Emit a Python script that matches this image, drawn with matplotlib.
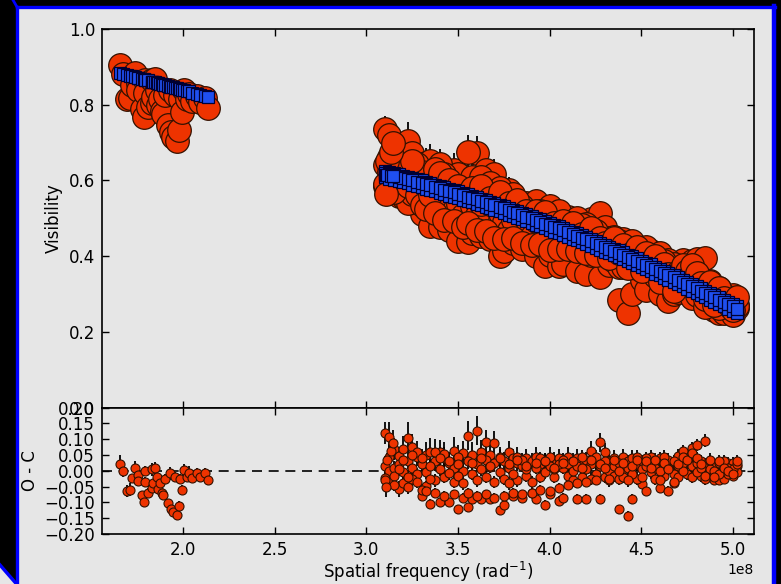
import numpy as np
import matplotlib
matplotlib.use("Agg")
import matplotlib.pyplot as plt
from matplotlib.patches import Polygon, Rectangle
from matplotlib.lines import Line2D

# ---------------- data (spatial frequency in units of 1e8 rad^-1) ----------------
freq_lo = [1.656, 1.673, 1.694, 1.711, 1.722, 1.738, 1.755, 1.755, 1.776, 1.787,
           1.793, 1.793, 1.809, 1.831, 1.831, 1.836, 1.847, 1.858, 1.864, 1.875,
           1.885, 1.891, 1.902, 1.918, 1.929, 1.935, 1.945, 1.956, 1.967, 1.978,
           1.984, 1.995, 2.005, 2.022, 2.033, 2.049, 2.076, 2.093, 2.120, 2.136]
model_lo = [.884, .882, .879, .877, .875, .873, .871, .871, .868, .867,
            .866, .866, .864, .861, .861, .860, .859, .858, .857, .855,
            .854, .853, .852, .850, .848, .847, .846, .845, .843, .842,
            .841, .840, .838, .836, .835, .832, .829, .827, .823, .821]
oc_lo = [.021, .000, -.064, -.060, -.024, .010, -.014, -.032, -.078, -.100,
         .000, -.035, -.070, -.056, .005, -.040, .008, -.020, -.058, -.040,
         -.070, -.078, -.026, -.103, -.008, -.120, -.130, -.020, -.140, -.110,
         -.026, -.060, .002, -.020, -.006, -.022, -.006, -.020, -.006, -.030]
err_lo = [.030, .020, .020, .020, .015, .020, .015, .015, .015, .015,
          .015, .015, .015, .015, .020, .015, .020, .015, .015, .015,
          .015, .015, .015, .015, .020, .015, .015, .015, .015, .015,
          .015, .015, .020, .015, .020, .015, .015, .015, .015, .015]

freq_hi = [3.100, 3.124, 3.151, 3.176, 3.198, 3.226, 3.251, 3.274, 3.301, 3.327,
           3.349, 3.376, 3.402, 3.424, 3.451, 3.477, 3.499, 3.526, 3.552, 3.574,
           3.601, 3.623, 3.652, 3.676, 3.698, 3.727, 3.749, 3.776, 3.802, 3.824,
           3.851, 3.873, 3.902, 3.926, 3.948, 3.977, 4.001, 4.024, 4.052, 4.074,
           4.101, 4.126, 4.148, 4.177, 4.199, 4.227, 4.251, 4.273, 4.302, 4.324,
           4.351, 4.376, 4.398, 4.427, 4.449, 4.476, 4.502, 4.524, 4.551, 4.573,
           4.602, 4.626, 4.648, 4.677, 4.699, 4.726, 4.751, 4.774, 4.802, 4.826,
           4.848, 4.877, 4.899, 4.926, 4.951, 4.974, 5.001, 5.022]
model_hi = [.616, .613, .610, .606, .603, .600, .596, .593, .590, .586,
            .583, .579, .576, .572, .568, .565, .561, .557, .553, .550,
            .546, .542, .538, .534, .530, .526, .522, .517, .513, .509,
            .505, .500, .496, .491, .487, .482, .478, .473, .469, .464,
            .459, .454, .450, .445, .440, .435, .430, .425, .420, .415,
            .410, .405, .400, .394, .389, .384, .378, .373, .368, .362,
            .357, .351, .345, .340, .334, .328, .322, .317, .311, .305,
            .299, .293, .287, .281, .275, .269, .263, .257]
# small model offsets between baseline groups (A, B, C, D)
model_shift = [0.000, 0.010, -0.008, 0.004]
oc_hi_a = [.120, .108, .068, .046, .070, .105, .076, .045, -.079, -.048,
           -.104, .030, -.100, .040, -.100, .062, -.122, .055, -.116, -.090,
           .127, -.090, .090, -.090, .087, -.125, -.109, .058, -.079, .025,
           -.085, .040, -.069, -.090, .020, -.109, -.074, .035, -.095, -.085,
           .045, .030, -.090, .025, -.088, .063, .030, .090, .058, .032,
           .040, -.122, .045, -.143, -.090, .020, -.042, -.063, .045, .030,
           -.056, .025, -.063, -.040, .048, .061, .030, .071, .081, .030,
           .095, -.020, -.030, -.030, -.026, .025, -.018, .014]
oc_hi_b = [.016, .000, .010, -.057, -.005, .030, .008, -.010, .020, .050,
           .058, -.030, .058, -.020, .025, .010, .045, .000, .111, .050,
           .020, .058, -.020, .050, -.035, .045, .030, .010, .040, -.030,
           .015, -.015, .030, .045, -.020, .030, .045, -.020, .040, .010,
           -.015, -.030, .040, -.020, .035, .020, -.010, -.090, -.020, .000,
           .015, .025, .005, .030, .040, -.025, .030, .040, -.005, -.025,
           .040, -.015, .035, .030, .015, .025, -.010, .015, .025, -.015,
           .020, .030, .020, .025, .015, -.010, .025, -.005]
oc_hi_c = [-.022, -.036, -.016, .022, -.040, -.052, -.025, .058, .040, -.005,
           .015, .060, .005, .052, -.008, -.035, -.015, -.040, .030, -.010,
           -.030, .005, .035, .012, .025, -.005, -.025, -.040, -.010, .045,
           .035, .005, -.035, .010, .040, -.005, .015, .005, .020, .035,
           .020, .000, .015, .045, .005, -.025, .045, .015, .030, -.030,
           -.015, -.025, -.020, .010, -.010, .045, .005, .015, .020, .010,
           .000, .045, .010, -.010, -.020, .000, .040, -.020, -.005, .010,
           -.025, .005, .000, -.010, .030, .010, .005, .020]
oc_hi_d = [-.030, .045, -.045, .005, .035, -.020, .050, -.035,
           -.060, -.065, -.025, -.070, .040, -.080, .030, -.075, .020, -.085,
           -.070, .025, -.080, .040, -.075, .015, -.085, .040, -.080, .020,
           -.070, .035, -.075, .015, -.070, .025, -.060, .030, -.065, .010,
           -.055, .025, -.045, .030, -.040, .010, -.035, .035, -.030, .020,
           .010, -.025, .035, .000, .025, -.030, .015, .035, -.020, .030,
           .010, .035, -.030, .025, .005, -.035, .020, .045, .035, .055,
           .040, .020, -.015, .035, -.020, .030, .010, .000, -.010, .030]
err_hi_a = [.035, .045, .035, .030, .040, .050, .040, .030, .015, .015,
            .015, .030, .015, .035, .015, .045, .015, .040, .015, .015,
            .045, .015, .040, .015, .040, .015, .015, .035, .015, .025,
            .015, .030, .015, .015, .020, .015, .015, .025, .015, .015,
            .030, .025, .015, .020, .015, .030, .025, .030, .030, .020,
            .025, .015, .025, .015, .015, .020, .015, .015, .020, .020,
            .015, .020, .015, .015, .020, .020, .020, .020, .020, .020,
            .020, .015, .015, .015, .015, .020, .015, .015]
err_hi_b = [.030, .030, .020, .025, .020, .025, .020, .020, .020, .040,
            .045, .020, .040, .020, .030, .020, .035, .020, .045, .040,
            .020, .040, .020, .035, .020, .030, .030, .020, .030, .020,
            .020, .020, .025, .030, .020, .025, .030, .020, .030, .020,
            .020, .020, .030, .020, .025, .020, .020, .015, .020, .020,
            .020, .020, .020, .020, .025, .020, .020, .020, .020, .020,
            .020, .020, .020, .020, .020, .020, .020, .020, .020, .020,
            .020, .020, .020, .020, .020, .020, .020, .015]
err_hi_c = [.030, .020, .020, .020, .020, .020, .020, .035, .030, .020,
            .020, .040, .020, .040, .020, .020, .020, .020, .025, .020,
            .020, .020, .030, .020, .025, .020, .020, .020, .020, .030,
            .020, .020, .020, .020, .020, .020, .020, .020, .020, .020,
            .020, .020, .020, .020, .020, .020, .020, .020, .020, .020,
            .020, .020, .020, .020, .020, .020, .020, .020, .020, .020,
            .020, .020, .020, .020, .020, .020, .020, .020, .020, .020,
            .020, .020, .020, .020, .020, .020, .020, .020]
err_hi_d = [.025, .040, .020, .020, .035, .020, .040, .020,
            .015, .015, .020, .015, .035, .015, .030, .015, .025, .015,
            .015, .025, .015, .035, .015, .020, .015, .030, .015, .020,
            .015, .025, .015, .020, .015, .020, .015, .025, .015, .020,
            .015, .020, .015, .020, .015, .020, .015, .020, .015, .020,
            .020, .020, .020, .020, .020, .020, .020, .020, .020, .020,
            .020, .020, .020, .020, .020, .020, .020, .020, .020, .020,
            .020, .020, .020, .020, .020, .020, .020, .020, .020, .020]
freq_x = [3.106, 3.112, 3.133, 3.143]
model_x = [.615, .615, .612, .611]
oc_x = [-.052, .035, .062, .088]
err_x = [.030, .020, .035, .040]

# ---------------- assemble ----------------
mh = np.asarray(model_hi)
freq = np.concatenate([freq_lo, freq_hi, freq_hi, freq_hi, freq_hi, freq_x]) * 1e8
model = np.concatenate([model_lo, mh + model_shift[0], mh + model_shift[1],
                        mh + model_shift[2], mh + model_shift[3], model_x])
oc = np.concatenate([oc_lo, oc_hi_a, oc_hi_b, oc_hi_c, oc_hi_d, oc_x])
err = np.concatenate([err_lo, err_hi_a, err_hi_b, err_hi_c, err_hi_d, err_x])
obs = model + oc

BG = "#e6e6e6"
RED = "#ee3300"
BLUE = "#1f4ff0"

fig = plt.figure(figsize=(7.81, 5.84), dpi=100, facecolor=BG)

# frame decoration (black border with blue outline)
deco = fig.add_axes([0, 0, 1, 1], zorder=-5)
deco.set_xlim(0, 781)
deco.set_ylim(584, 0)
deco.axis("off")
deco.add_patch(Rectangle((0, 0), 781, 5.5, color="black", lw=0))
deco.add_patch(Polygon([(0, 0), (16, 0), (16, 583), (0, 565)], closed=True,
                       color="black", lw=0))
deco.add_patch(Rectangle((776, 0), 5, 584, color="black", lw=0))
deco.add_line(Line2D([16.5, 774.5], [7, 7], color="#0000ff", lw=2.4))
deco.add_line(Line2D([16.5, 16.5], [7, 584], color="#0000ff", lw=2.4))
deco.add_line(Line2D([774, 774], [6, 584], color="#0000ff", lw=3.2))
deco.add_line(Line2D([0, 16.5], [565, 584], color="#0000ff", lw=2.4))
deco.add_line(Line2D([13, 17], [0, 7], color="#0000ff", lw=2.0))

ax1 = fig.add_axes([0.1306, 0.3022, 0.8348, 0.6481], facecolor=BG)
ax2 = fig.add_axes([0.1306, 0.0856, 0.8348, 0.2166], facecolor=BG, sharex=ax1)

ax1.errorbar(freq, obs, yerr=err, fmt="o", ms=17, mfc=RED, mec="#331100",
             mew=0.9, ecolor="k", elinewidth=1.3, capsize=0, zorder=2)
ax1.plot(freq, model, "s", ms=8.5, mfc=BLUE, mec="#000033", mew=0.9, zorder=3)

ax2.axhline(0, color="k", ls=(0, (6, 4)), lw=1.2, zorder=1)
ax2.errorbar(freq, oc, yerr=err, fmt="o", ms=6.5, mfc=RED, mec="#331100",
             mew=0.8, ecolor="k", elinewidth=1.3, capsize=0, zorder=2)

for ax in (ax1, ax2):
    ax.tick_params(direction="in", top=True, right=True, length=5, width=1,
                   labelsize=12, pad=5)
    for s in ax.spines.values():
        s.set_linewidth(1.2)
ax1.tick_params(labelbottom=False)

ax1.set_ylim(0.0, 1.0)
ax1.set_yticks([0.0, 0.2, 0.4, 0.6, 0.8, 1.0])
ax2.set_ylim(-0.2, 0.2)
ax2.set_yticks([-0.20, -0.15, -0.10, -0.05, 0.0, 0.05, 0.10, 0.15, 0.20])
ax2.set_xlim(1.558e8, 5.1145e8)
ax2.set_xticks([2.0e8, 2.5e8, 3.0e8, 3.5e8, 4.0e8, 4.5e8, 5.0e8])

ax1.set_ylabel("Visibility", fontsize=12)
ax2.set_ylabel("O - C", fontsize=12)
ax2.set_xlabel("Spatial frequency (rad$^{-1}$)", fontsize=12, labelpad=1)

fig.savefig("out.png", dpi=100, facecolor=BG)
